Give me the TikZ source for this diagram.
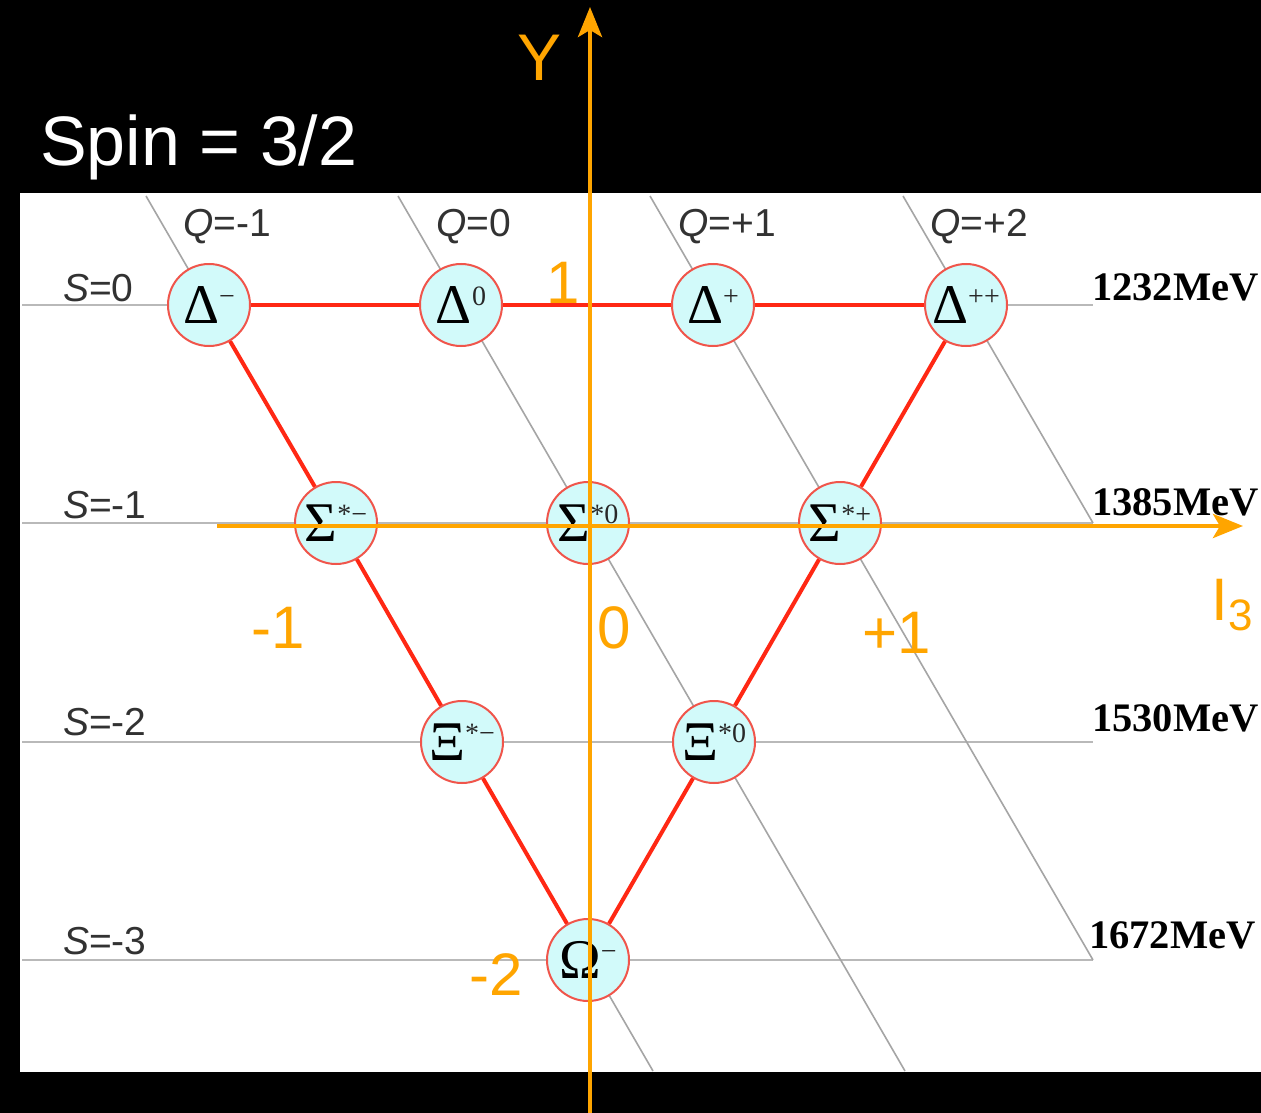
\documentclass[tikz,border=0pt]{standalone}
\usepackage{fontspec}
\setmainfont{Liberation Serif}
\newfontfamily\sansf{Liberation Sans}
\usetikzlibrary{arrows.meta}
\definecolor{axisorange}{RGB}{255,165,0}
\definecolor{linered}{RGB}{255,40,20}
\definecolor{nodered}{RGB}{240,85,75}
\definecolor{nodefill}{RGB}{210,250,250}
\definecolor{gridgray}{RGB}{185,185,185}
\definecolor{qgray}{RGB}{165,165,165}
\definecolor{labgray}{RGB}{50,50,50}
\definecolor{supgray}{RGB}{40,40,40}
\newcommand\psup[1]{\raisebox{18pt}{\fontsize{28}{28}\selectfont\color{supgray}#1}}
\newcommand\pbig{\fontsize{56}{56}\selectfont}
\tikzset{
  particle/.style={circle, draw=nodered, line width=2pt, fill=nodefill,
    minimum size=82pt, inner sep=0pt, font=\pbig},
  sline/.style={draw=gridgray, line width=2.2pt},
  qline/.style={draw=qgray, line width=1.6pt},
  redline/.style={draw=linered, line width=4pt},
  axisline/.style={draw=axisorange, line width=4.5pt,
    -{Stealth[length=30pt,width=24pt,inset=7pt]}},
  qlab/.style={font=\sansf\fontsize{39}{39}\selectfont, text=labgray, inner sep=0pt},
  mev/.style={font=\bfseries\fontsize{40.5}{40.5}\selectfont, text=black, inner sep=0pt, anchor=west},
  olab/.style={font=\sansf\fontsize{60}{60}\selectfont, text=axisorange, inner sep=0pt}
}
\begin{document}
\begin{tikzpicture}[x=1pt,y=-1pt]
\useasboundingbox (0,0) rectangle (1261,1113);
\fill[black] (0,0) rectangle (1261,1113);
\fill[white] (20,193) rectangle (1261,1072);

% strangeness lines
\coordinate (s0l) at (22,305);  \coordinate (s0r) at (1093,305);
\coordinate (s1l) at (22,523);  \coordinate (s1r) at (1093,523);
\coordinate (s2l) at (22,742);  \coordinate (s2r) at (1093,742);
\coordinate (s3l) at (22,960);  \coordinate (s3r) at (1093,960);
\draw[sline] (s0l) -- (s0r);
\draw[sline] (s1l) -- (s1r);
\draw[sline] (s2l) -- (s2r);
\draw[sline] (s3l) -- (s3r);

% charge lines
\coordinate (qm1t) at (146,196); \coordinate (qm1b) at (653,1071);
\coordinate (q0t) at (398,196);  \coordinate (q0b) at (905,1071);
\coordinate (qp1t) at (650,196);
\coordinate (qp2t) at (903,196);
\draw[qline] (qm1t) -- (qm1b);
\draw[qline] (q0t) -- (q0b);
\draw[qline] (qp1t) -- (s3r);
\draw[qline] (qp2t) -- (s1r);

% particles
\node[particle] (dm)  at (209,305) {Δ\psup{−}};
\node[particle] (d0)  at (461,305) {Δ\psup{0}};
\node[particle] (dp)  at (713,305) {Δ\psup{+}};
\node[particle] (dpp) at (966,305) {Δ\psup{++}};
\node[particle] (sm)  at (336,523) {Σ\psup{*−}};
\node[particle] (s0)  at (588,523) {Σ\psup{*0}};
\node[particle] (sp)  at (840,523) {Σ\psup{*+}};
\node[particle] (xm)  at (462,742) {Ξ\psup{*−}};
\node[particle] (x0)  at (714,742) {Ξ\psup{*0}};
\node[particle] (om)  at (588,960) {Ω\psup{−}};

% red multiplet edges
\draw[redline] (dm) -- (d0);
\draw[redline] (d0) -- (dp);
\draw[redline] (dp) -- (dpp);
\draw[redline] (dm) -- (sm);
\draw[redline] (sm) -- (xm);
\draw[redline] (xm) -- (om);
\draw[redline] (dpp) -- (sp);
\draw[redline] (sp) -- (x0);
\draw[redline] (x0) -- (om);

% charge labels
\node[qlab, anchor=west] (lqm1) at (183,227) {\itshape Q\upshape =-1};
\node[qlab, anchor=west] (lq0)  at (436,227) {\itshape Q\upshape =0};
\node[qlab, anchor=west] (lqp1) at (678,227) {\itshape Q\upshape =+1};
\node[qlab, anchor=west] (lqp2) at (930,227) {\itshape Q\upshape =+2};
% strangeness labels
\node[qlab, anchor=west] (ls0) at (63,288) {\itshape S\upshape =0};
\node[qlab, anchor=west] (ls1) at (63,505) {\itshape S\upshape =-1};
\node[qlab, anchor=west] (ls2) at (63,722) {\itshape S\upshape =-2};
\node[qlab, anchor=west] (ls3) at (63,941) {\itshape S\upshape =-3};
% masses
\node[mev] (m1) at (1092,287) {1232MeV};
\node[mev] (m2) at (1092,502) {1385MeV};
\node[mev] (m3) at (1092,718) {1530MeV};
\node[mev] (m4) at (1089,935) {1672MeV};

% axes
\coordinate (ybot) at (590,1113); \coordinate (ytop) at (590,7);
\coordinate (xl) at (217,526);    \coordinate (xr) at (1243,526);
\draw[axisline] (ybot) -- (ytop);
\draw[axisline] (xl) -- (xr);

% axis labels
\node[olab, font=\sansf\fontsize{66}{66}\selectfont] (ylab) at (540,58) {Y};
\node[olab] (l1)  at (563,283) {1};
\node[olab] (lm1) at (278,628) {-1};
\node[olab] (l0)  at (614,628) {0};
\node[olab] (lp1) at (897,633) {+1};
\node[olab] (lm2) at (496,975) {-2};
\node[olab] (li3) at (1232,605) {I\raisebox{-10pt}{\fontsize{44}{44}\selectfont 3}};

% title
\node[font=\sansf\fontsize{70}{70}\selectfont, text=white, anchor=west, inner sep=0pt] (title) at (40,147) {Spin = 3/2};
\end{tikzpicture}
\end{document}
